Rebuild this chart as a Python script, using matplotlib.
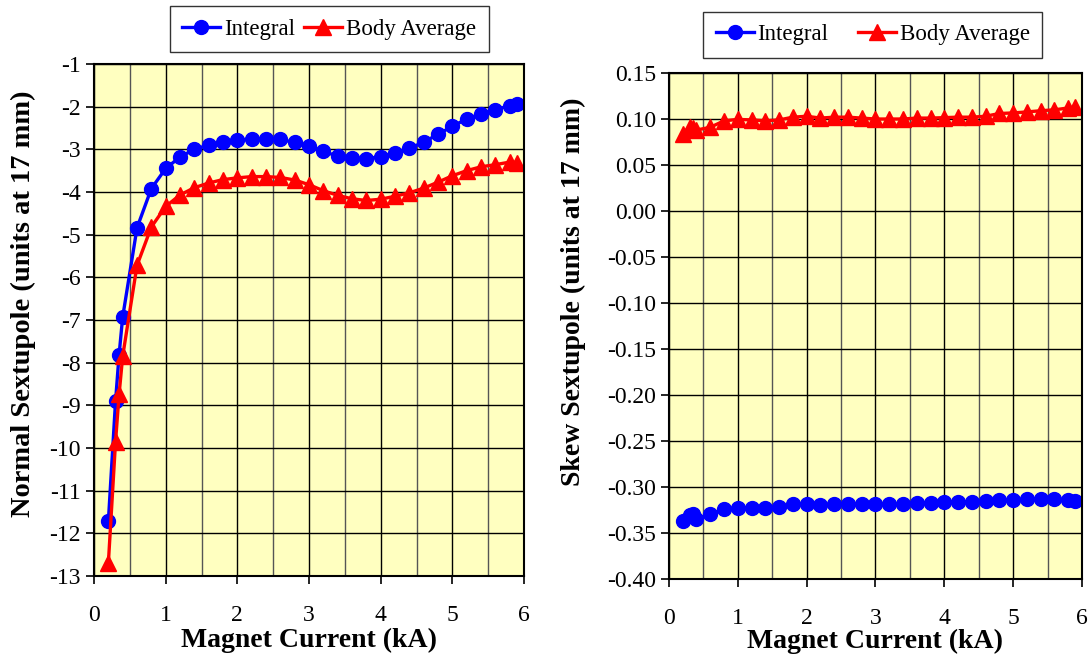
import numpy as np
import matplotlib
matplotlib.use("Agg")
import matplotlib.pyplot as plt
from matplotlib.ticker import MultipleLocator

plt.rcParams['font.family'] = ['Liberation Serif', 'DejaVu Serif']
plt.rcParams['axes.unicode_minus'] = False

# magnet current (kA)
current = [0.2, 0.3, 0.35, 0.4, 0.6, 0.8, 1.0, 1.2, 1.4, 1.6, 1.8, 2.0, 2.2, 2.4,
           2.6, 2.8, 3.0, 3.2, 3.4, 3.6, 3.8, 4.0, 4.2, 4.4, 4.6, 4.8, 5.0, 5.2,
           5.4, 5.6, 5.8, 5.9]

normal_integral = [-11.72, -8.91, -7.81, -6.93, -4.84, -3.92, -3.45, -3.18, -3.00,
                   -2.90, -2.82, -2.78, -2.76, -2.75, -2.77, -2.84, -2.93, -3.05,
                   -3.16, -3.20, -3.22, -3.17, -3.09, -2.98, -2.83, -2.65, -2.46,
                   -2.29, -2.17, -2.07, -1.98, -1.95]
normal_body = [-12.70, -9.86, -8.74, -7.85, -5.72, -4.82, -4.34, -4.07, -3.90,
               -3.79, -3.71, -3.67, -3.64, -3.64, -3.66, -3.72, -3.83, -3.97,
               -4.08, -4.16, -4.20, -4.17, -4.10, -4.02, -3.91, -3.77, -3.62,
               -3.50, -3.41, -3.36, -3.30, -3.31]

skew_integral = [-0.3373, -0.3300, -0.3297, -0.3348, -0.3297, -0.3243, -0.3225,
                 -0.3225, -0.3225, -0.3220, -0.3190, -0.3180, -0.3200, -0.3180,
                 -0.3180, -0.3185, -0.3190, -0.3190, -0.3185, -0.3170, -0.3170,
                 -0.3160, -0.3160, -0.3160, -0.3150, -0.3145, -0.3140, -0.3134,
                 -0.3130, -0.3134, -0.3145, -0.3150]
skew_body = [0.0836, 0.0916, 0.0898, 0.0880, 0.0910, 0.0980, 0.0996, 0.0990,
             0.0980, 0.0990, 0.1020, 0.1030, 0.1010, 0.1020, 0.1020, 0.1010,
             0.1000, 0.1000, 0.1000, 0.1010, 0.1010, 0.1015, 0.1020, 0.1020,
             0.1030, 0.1060, 0.1066, 0.1077, 0.1090, 0.1100, 0.1120, 0.1130]

bg = '#FFFFC0'

fig = plt.figure(figsize=(10.92, 6.56), dpi=100)
ax1 = fig.add_axes([0.0861, 0.122, 0.3938, 0.7805])
ax2 = fig.add_axes([0.6126, 0.1174, 0.3782, 0.7713])


def style(ax):
    ax.set_facecolor(bg)
    ax.set_xlim(0, 6)
    ax.xaxis.set_major_locator(MultipleLocator(1))
    ax.xaxis.set_minor_locator(MultipleLocator(0.5))
    ax.grid(True, which='major', color='black', lw=1.0)
    ax.grid(True, which='minor', axis='x', color='#555555', lw=1.0)
    ax.set_axisbelow(True)
    ax.tick_params(which='major', direction='out', length=6, width=1.2,
                   labelsize=17, colors='black')
    ax.tick_params(axis='x', which='major', pad=15)
    ax.tick_params(which='minor', length=0)
    for s in ax.spines.values():
        s.set_linewidth(1.5)


style(ax1)
ax1.plot(current, normal_integral, color='blue', marker='o', ms=10, lw=2.4,
         label='Integral')
ax1.plot(current, normal_body, color='red', marker='^', ms=11, lw=2.4,
         label='Body Average')
ax1.set_ylim(-13, -1)
ax1.yaxis.set_major_locator(MultipleLocator(1))
ax1.set_xlabel('Magnet Current (kA)', fontsize=20, fontweight='bold', labelpad=1)
ax1.set_ylabel('Normal Sextupole (units at 17 mm)', fontsize=20.5,
               fontweight='bold')
ax1.yaxis.set_label_coords(-0.135, 0.531)
leg1 = ax1.legend(loc='lower center', bbox_to_anchor=(0.547, 1.023), ncol=2,
                  fontsize=16.5, frameon=True, fancybox=False, edgecolor='black',
                  handlelength=1.66, columnspacing=0.4, handletextpad=0.17,
                  borderpad=0.55, borderaxespad=0)
leg1.get_frame().set_linewidth(1.0)

style(ax2)
ax2.plot(current, skew_integral, color='blue', marker='o', ms=10, lw=2.4,
         label='Integral')
ax2.plot(current, skew_body, color='red', marker='^', ms=11, lw=2.4,
         label='Body Average')
ax2.set_ylim(-0.40, 0.15)
ax2.yaxis.set_major_locator(MultipleLocator(0.05))
ax2.yaxis.set_major_formatter(plt.FuncFormatter(lambda v, p: '%.2f' % v))
ax2.set_xlabel('Magnet Current (kA)', fontsize=20, fontweight='bold', labelpad=0)
ax2.set_ylabel('Skew Sextupole (units at 17 mm)', fontsize=20,
               fontweight='bold')
ax2.yaxis.set_label_coords(-0.2, 0.567)
leg2 = ax2.legend(loc='lower center', bbox_to_anchor=(0.493, 1.03), ncol=2,
                  fontsize=16.5, frameon=True, fancybox=False, edgecolor='black',
                  handlelength=1.66, columnspacing=1.27, handletextpad=0.17,
                  borderpad=0.55, borderaxespad=0)
leg2.get_frame().set_linewidth(1.0)

fig.savefig('out.png', dpi=100)
